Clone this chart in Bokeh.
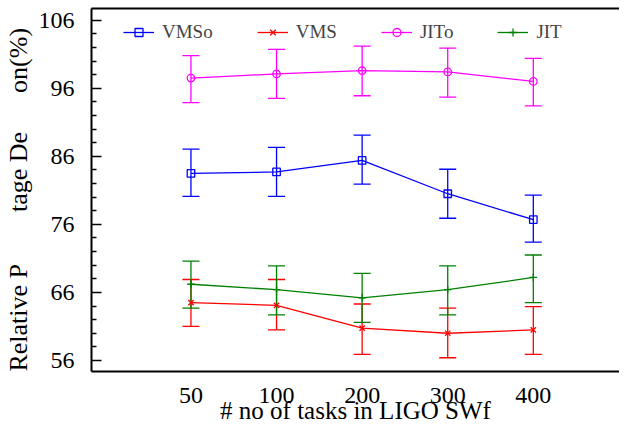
import math
from bokeh.plotting import figure
from bokeh.models import (ColumnDataSource, Whisker, TeeHead, FixedTicker, LinearAxis,
                          Legend, LegendItem, Range1d)
from bokeh.embed import file_html
from bokeh.resources import INLINE

# ---- data ----
tasks = ["50", "100", "200", "300", "400"]
series_names = ["VMSo", "VMS", "JITo", "JIT"]
vmso_mean = [83.5, 83.7, 85.4, 80.5, 76.7]
vmso_upper = [87.05, 87.3, 89.1, 84.1, 80.3]
vmso_lower = [80.1, 80.1, 81.9, 76.9, 73.4]
vms_mean = [64.5, 64.1, 60.75, 60.0, 60.5]
vms_upper = [67.9, 67.9, 64.3, 63.7, 63.9]
vms_lower = [61.0, 60.5, 56.9, 56.4, 56.9]
jito_mean = [97.5, 98.1, 98.6, 98.4, 97.0]
jito_upper = [100.8, 101.7, 102.2, 101.9, 100.4]
jito_lower = [93.9, 94.5, 94.9, 94.7, 93.4]
jit_mean = [67.2, 66.4, 65.2, 66.4, 68.2]
jit_upper = [70.6, 69.9, 68.8, 69.9, 71.5]
jit_lower = [63.7, 62.7, 61.6, 62.7, 64.5]
y_major = [56, 66, 76, 86, 96, 106]
x_label = "# no of tasks in LIGO SWf"
y_label_parts = ["Relative P", "tage De", "on(%)"]

colors = ["#0000ff", "#ff0000", "#ff00ff", "#008000"]
markers = ["square", "x", "circle", "cross"]
means = [vmso_mean, vms_mean, jito_mean, jit_mean]
uppers = [vmso_upper, vms_upper, jito_upper, jit_upper]
lowers = [vmso_lower, vms_lower, jito_lower, jit_lower]

xs = list(range(1, len(tasks) + 1))
FONT = "Liberation Serif"
NB = "\u00a0"
y_label = y_label_parts[0] + NB * 8 + y_label_parts[1] + NB * 6 + y_label_parts[2] + NB * 3

p = figure(width=619, height=426, output_backend="svg", toolbar_location=None,
           x_range=Range1d(-0.162, 6.007), y_range=Range1d(54.38, 107.72),
           x_axis_type=None, y_axis_type=None,
           min_border_left=88, min_border_right=0, min_border_top=8, min_border_bottom=55)
p.outline_line_color = None
p.background_fill_color = "white"
p.border_fill_color = "white"

minor = [v for v in range(56, 108, 2) if v not in y_major]
yaxis = LinearAxis(ticker=FixedTicker(ticks=y_major, minor_ticks=minor))
yaxis.axis_line_width = 2
yaxis.major_tick_in = 10
yaxis.major_tick_out = 0
yaxis.minor_tick_in = 5
yaxis.minor_tick_out = 0
yaxis.major_tick_line_width = 1.5
yaxis.minor_tick_line_width = 1.5
yaxis.major_label_text_font = FONT
yaxis.major_label_text_font_size = "24px"
yaxis.major_label_text_color = "black"
yaxis.major_label_standoff = 17
yaxis.axis_label = y_label
yaxis.axis_label_text_font = FONT
yaxis.axis_label_text_font_size = "26px"
yaxis.axis_label_text_font_style = "normal"
yaxis.axis_label_text_color = "black"
yaxis.axis_label_standoff = 3
p.add_layout(yaxis, "left")

xaxis = LinearAxis(ticker=FixedTicker(ticks=xs))
xaxis.major_label_overrides = {x: t for x, t in zip(xs, tasks)}
xaxis.axis_line_width = 2
xaxis.major_tick_in = 0
xaxis.major_tick_out = 0
xaxis.minor_tick_in = 0
xaxis.minor_tick_out = 0
xaxis.major_label_text_font = FONT
xaxis.major_label_text_font_size = "24px"
xaxis.major_label_text_color = "black"
xaxis.major_label_text_line_height = 1.0
xaxis.major_label_standoff = 16
xaxis.axis_label = x_label
xaxis.axis_label_text_font = FONT
xaxis.axis_label_text_font_size = "25px"
xaxis.axis_label_text_font_style = "normal"
xaxis.axis_label_text_color = "black"
xaxis.axis_label_text_line_height = 1.0
xaxis.axis_label_standoff = -9
p.add_layout(xaxis, "below")

top_axis = LinearAxis(ticker=FixedTicker(ticks=[]))
top_axis.axis_line_width = 2
top_axis.major_tick_in = 0
top_axis.major_tick_out = 0
top_axis.minor_tick_in = 0
top_axis.minor_tick_out = 0
top_axis.major_label_standoff = 0
p.add_layout(top_axis, "above")

p.ygrid.ticker = FixedTicker(ticks=y_major)
p.ygrid.grid_line_color = "#a0a0a0"
p.ygrid.grid_line_dash = "1 5"
p.ygrid.grid_line_width = 1
p.xgrid.visible = False

items = []
for name, col, mk, m, u, l in zip(series_names, colors, markers, means, uppers, lowers):
    src = ColumnDataSource(dict(x=xs, y=m, upper=u, lower=l))
    w = Whisker(source=src, base="x", upper="upper", lower="lower", dimension="height",
                line_color=col, line_width=1.3,
                upper_head=TeeHead(size=17, line_color=col, line_width=1.3),
                lower_head=TeeHead(size=17, line_color=col, line_width=1.3))
    p.add_layout(w)
    ln = p.line("x", "y", source=src, line_color=col, line_width=1.3)
    sc = p.scatter("x", "y", source=src, marker=mk, size=7.5, line_color=col,
                   fill_color=None, line_width=1.3)
    items.append(LegendItem(label=name, renderers=[ln, sc]))

legend = Legend(items=items, orientation="horizontal", location=(32, 328),
                glyph_width=31, glyph_height=20, label_height=20, label_standoff=8,
                spacing=44, padding=0, margin=0,
                label_text_font=FONT, label_text_font_size="19px",
                background_fill_alpha=0, border_line_color=None)
p.add_layout(legend)

open("out.html", "w").write(file_html(p, INLINE))
